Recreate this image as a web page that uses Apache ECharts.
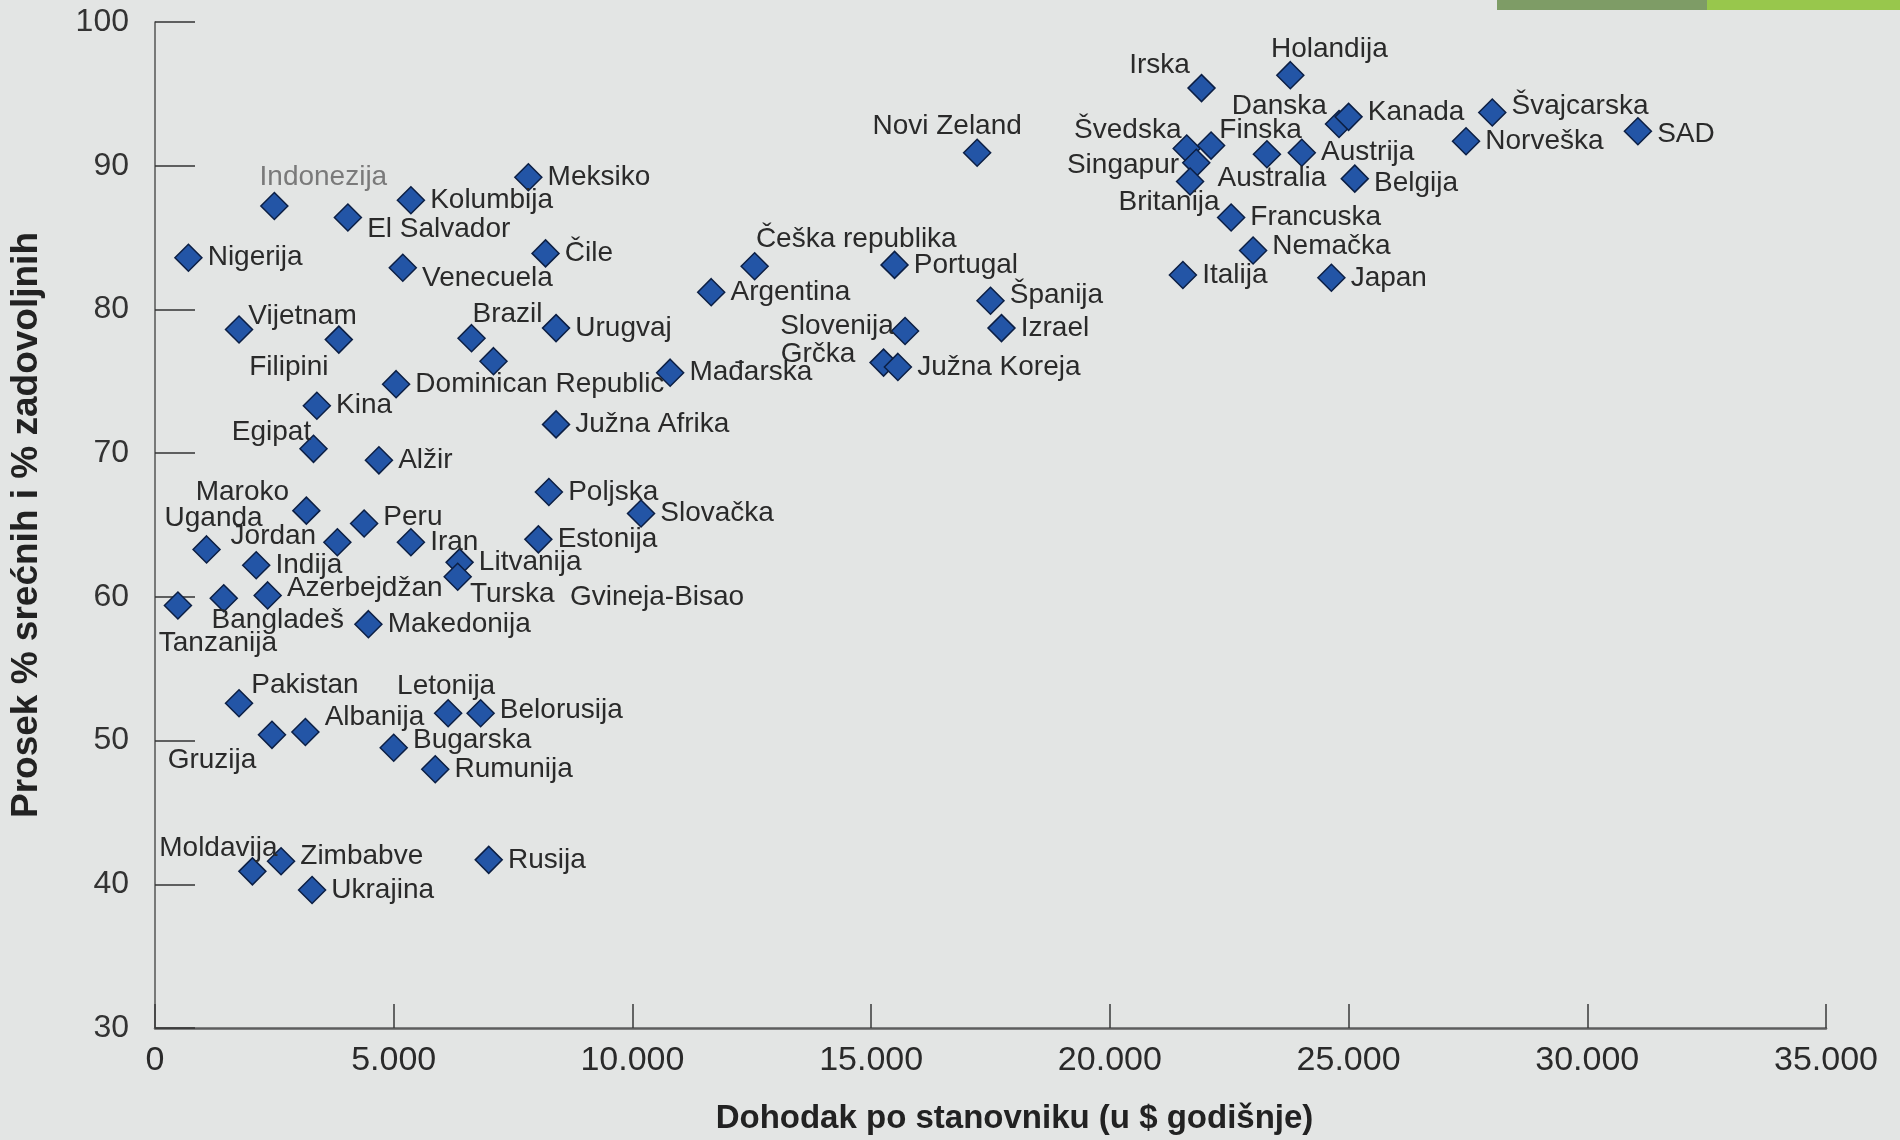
<!DOCTYPE html>
<html>
<head>
<meta charset="utf-8">
<script src="https://cdn.jsdelivr.net/npm/echarts@6/dist/echarts.min.js"></script>
<style>
html,body{margin:0;padding:0;background:#e3e5e4;}
#c{width:1900px;height:1140px;}
</style>
</head>
<body>
<div id="c"></div>
<script>
// ---- data ----
const countries = ["Nigerija","Indonezija","El Salvador","Kolumbija","Meksiko","Venecuela","Čile","Vijetnam","Filipini","Brazil","","Dominican Republic","Urugvaj","Kina","Egipat","Alžir","Južna Afrika","Mađarska","Argentina","Češka republika","Portugal","Slovenija","Grčka","Južna Koreja","Španija","Izrael","Novi Zeland","Irska","Holandija","Danska","Kanada","Švedska","Finska","Singapur","Britanija","Australia","Austrija","Belgija","Francuska","Nemačka","Italija","Japan","Švajcarska","Norveška","SAD","Uganda","Maroko","Jordan","Peru","Iran","Indija","Azerbejdžan","Bangladeš","Tanzanija","Makedonija","Litvanija","Turska","Poljska","Estonija","Slovačka","Pakistan","Gruzija","Albanija","Letonija","Belorusija","Bugarska","Rumunija","Moldavija","Zimbabve","Ukrajina","Rusija"];
const income = [700,2500,4040,5360,7820,5190,8180,1760,3850,6630,7090,5050,8400,3390,3320,4690,8400,10790,11650,12560,15490,15710,15260,15560,17500,17730,17220,21920,23780,24800,25000,21610,22120,21810,21680,23290,24020,25130,22540,23000,21530,24640,28010,27460,31060,1080,3170,3820,4380,5360,2120,2360,1440,480,4470,6380,6340,8250,8030,10180,1760,2450,3150,6140,6820,5000,5870,2040,2640,3290,6990];
const happiness = [83.6,87.2,86.4,87.6,89.2,82.9,83.9,78.6,77.9,78.0,76.4,74.8,78.7,73.3,70.3,69.5,72.0,75.6,81.2,83.0,83.1,78.5,76.3,76.0,80.6,78.7,90.9,95.4,96.3,92.9,93.4,91.2,91.4,90.2,88.9,90.8,90.9,89.1,86.4,84.1,82.4,82.2,93.7,91.7,92.4,63.3,66.0,63.8,65.1,63.8,62.2,60.1,59.9,59.4,58.1,62.4,61.4,67.3,64.0,65.8,52.6,50.4,50.6,51.9,51.9,49.5,48.0,40.9,41.6,39.6,41.7];
// label printed with no marker in the picture
const noteLabels = ["Gvineja-Bisao"];
const noteIncome = [8690];
const noteHappiness = [60];

// ---- label placement (styling) ----
// [position, dx, dy] in px
const place = {
  "Indonezija":["inside",49,-29],
  "El Salvador":["right",0,12],
  "Venecuela":["right",0,11],
  "Vijetnam":["right",-10,-13],
  "Filipini":["inside",-50,28],
  "Brazil":["inside",36,-24],
  "Češka republika":["right",-18,-27],
  "Španija":["right",0,-6],
  "Slovenija":["left",8,-5],
  "Grčka":["left",-9,-8],
  "Novi Zeland":["inside",-30,-26],
  "Irska":["inside",-42,-23],
  "Holandija":["inside",39,-26],
  "Danska":["left",7,-18],
  "Kanada":["right",0,-5],
  "Švedska":["left",14,-18],
  "Finska":["right",-11,-15],
  "Singapur":["left",2,2],
  "Britanija":["inside",-21,21],
  "Australia":["inside",5,24],
  "Belgija":["right",0,5],
  "Nemačka":["right",0,-4],
  "Švajcarska":["right",0,-6],
  "SAD":["right",0,3],
  "Egipat":["inside",-42,-17],
  "Maroko":["inside",-64,-18],
  "Uganda":["inside",7,-31],
  "Jordan":["inside",-64,-6],
  "Peru":["right",0,-6],
  "Azerbejdžan":["right",0,-7],
  "Bangladeš":["inside",54,22],
  "Tanzanija":["inside",40,38],
  "Turska":["right",-7,18],
  "Pakistan":["right",-7,-18],
  "Gruzija":["inside",-60,25],
  "Albanija":["right",0,-15],
  "Letonija":["inside",-2,-27],
  "Belorusija":["right",0,-3],
  "Bugarska":["right",0,-7],
  "Zimbabve":["right",0,-5],
  "Moldavija":["inside",-34,-23]
};

const fontFam = "'Liberation Sans', Arial, Helvetica, sans-serif";

const pts = countries.map((n,i)=>{
  const p = place[n] || ["right",0,0];
  return {
    name:n,
    value:[income[i],happiness[i]],
    label:{
      show: n !== "",
      position:p[0],
      offset:[p[1],p[2]],
      color: n==="Indonezija" ? "#7a7a7a" : "#2a2a2a"
    }
  };
});

noteLabels.forEach((n,i)=>{
  pts.push({
    name:n,
    value:[noteIncome[i],noteHappiness[i]],
    symbolSize:0,
    itemStyle:{borderWidth:0},
    label:{show:true,position:'right',distance:0,offset:[0,0],color:'#2a2a2a'}
  });
});

const chart = echarts.init(document.getElementById('c'));
chart.setOption({
  backgroundColor:'#e3e5e4',
  animation:false,
  textStyle:{fontFamily:fontFam},
  graphic:[
    {type:'rect',shape:{x:1497,y:0,width:210,height:10},style:{fill:'#7e9c66'}},
    {type:'rect',shape:{x:1707,y:0,width:193,height:10},style:{fill:'#98c74c'}}
  ],
  grid:{left:154,right:74,top:22,bottom:104,containLabel:false},
  xAxis:{
    type:'value',min:0,max:35000,interval:5000,
    axisLine:{show:true,lineStyle:{color:'#5d5d5d',width:2.5}},
    axisTick:{show:true,inside:true,length:24,lineStyle:{color:'#3a3a3a',width:1.5}},
    splitLine:{show:false},
    axisLabel:{fontSize:34,color:'#2a2a2a',margin:16,fontFamily:fontFam,
      formatter:v=> v===0 ? '0' : (v/1000)+'.000'},
    name:'Dohodak po stanovniku (u $ godišnje)',
    nameLocation:'middle',nameGap:74,
    nameTextStyle:{fontSize:33,fontWeight:'bold',color:'#222',fontFamily:fontFam,padding:[0,0,0,48]}
  },
  yAxis:{
    type:'value',min:30,max:100,interval:10,
    axisLine:{show:true,lineStyle:{color:'#555',width:1.5}},
    axisTick:{show:true,inside:true,length:40,lineStyle:{color:'#333',width:1.5}},
    splitLine:{show:false},
    axisLabel:{fontSize:32,color:'#333',margin:26,fontFamily:fontFam},
    name:'Prosek % srećnih i % zadovoljnih',
    nameLocation:'middle',nameGap:110,nameRotate:90,
    nameTextStyle:{fontSize:37,fontWeight:'bold',color:'#222',fontFamily:fontFam}
  },
  series:[
    {
      type:'scatter',
      symbol:'diamond',
      symbolSize:[27,27],
      itemStyle:{color:'#2355a6',borderColor:'#0c1f44',borderWidth:1.5,opacity:1},
      label:{show:true,formatter:'{b}',fontSize:28,fontFamily:fontFam,distance:5},
      emphasis:{disabled:true},
      data:pts
    }
  ]
});
</script>
</body>
</html>
